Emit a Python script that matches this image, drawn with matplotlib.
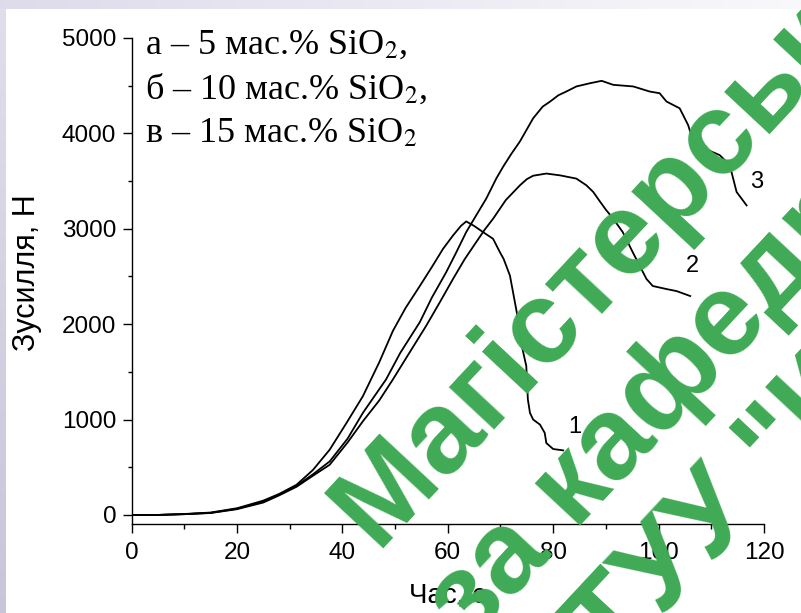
import numpy as np
import matplotlib
matplotlib.use("Agg")
import matplotlib.pyplot as plt
from matplotlib.ticker import MultipleLocator

plt.rcParams["font.family"] = ["Liberation Sans", "DejaVu Sans"]
plt.rcParams["mathtext.fontset"] = "stix"

# Load curves: time (s) vs force (N)
x1 = [0, 5, 10, 15, 20, 25, 28, 31.3, 34.4, 37.6, 40.8, 43.9, 47, 49.6, 52,
      54.7, 57, 59.1, 61, 62.5, 63.5, 65, 66.7, 68.6, 69.9, 70.6, 71.8, 73.1,
      73.7, 74.9, 75.2, 75.6, 76.2, 77.5, 78.4, 78.7, 80, 81.9]
y1 = [0, 0, 10, 25, 70, 150, 220, 316, 470, 684, 965, 1245, 1600, 1930, 2170,
      2400, 2600, 2789, 2930, 3030, 3077, 3030, 2965, 2895, 2754, 2684, 2509,
      2123, 1860, 1561, 1210, 1070, 1000, 947, 860, 754, 691, 677]

x2 = [0, 5, 10, 15, 20, 25, 28, 31.3, 34.4, 37.6, 41, 43.9, 47, 49.6, 52.5,
      55.9, 58.5, 61.0, 63.2, 65.4, 67, 68.6, 71, 73.7, 75, 76.2, 78.7, 81.3,
      84.4, 86.3, 87.6, 88.9, 90, 91.4, 93.2, 95.1, 96.4, 97.7, 98.9, 101.5,
      103.4, 106.0]
y2 = [0, 0, 8, 20, 60, 130, 205, 295, 410, 526, 760, 982, 1200, 1421, 1680,
      1982, 2230, 2474, 2680, 2860, 2990, 3105, 3300, 3456, 3520, 3556, 3579,
      3560, 3526, 3456, 3386, 3284, 3200, 3105, 2965, 2754, 2614, 2474, 2400,
      2368, 2347, 2295]

x3 = [0, 5, 10, 15, 20, 25, 28, 31.3, 34.4, 37.6, 41, 43.9, 48.3, 51, 54.7,
      57, 59.7, 61.5, 63.5, 65.5, 67.3, 69.2, 70.5, 72, 73.7, 76.2, 78, 79.4,
      81, 82.5, 84.4, 87.0, 89.2, 91.4, 95.2, 98.3, 100.2, 101.5, 104.0, 105.6,
      106.6, 107.9, 111.6, 113.5, 114.8, 116.7]
y3 = [0, 0, 8, 22, 65, 140, 210, 305, 425, 561, 800, 1070, 1421, 1700, 2021,
      2280, 2544, 2740, 2965, 3150, 3316, 3526, 3650, 3780, 3916, 4158, 4280,
      4333, 4400, 4439, 4492, 4526, 4551, 4509, 4492, 4439, 4421, 4334, 4263,
      4088, 3912, 3860, 3772, 3667, 3386, 3245]

curve_labels = ["1", "2", "3"]
label_pos = [(84.1, 926), (106.4, 2614), (118.6, 3492)]

legend_lines = ["а – 5 мас.% SiO$_2$,",
                "б – 10 мас.% SiO$_2$,",
                "в – 15 мас.% SiO$_2$"]

W, H = 801, 613
fig = plt.figure(figsize=(W / 100, H / 100), dpi=100)

# slide background: lavender frame on the left and top, white page
bg = np.ones((H, W, 3))
left_col = np.linspace(0.0, 1.0, H)[:, None]
lav_top = np.array([0.88, 0.87, 0.93])
lav_bot = np.array([0.79, 0.77, 0.85])
bg[:, :6, :] = (lav_top + (lav_bot - lav_top) * left_col)[:, None, :]
t = np.linspace(0.0, 1.0, W)[:, None]
top_l = np.array([0.87, 0.86, 0.92])
top_r = np.array([0.975, 0.975, 0.985])
bg[:9, :, :] = (top_l + (top_r - top_l) * t)[None, :, :]
bax = fig.add_axes([0, 0, 1, 1], zorder=-10)
bax.imshow(bg, aspect="auto", interpolation="bilinear")
bax.set_axis_off()

ax = fig.add_axes([131.5 / W, 1 - 524 / H, (764 - 131.5) / W, (524 - 38) / H])
ax.patch.set_alpha(0)

for xs, ys in ((x1, y1), (x2, y2), (x3, y3)):
    ax.plot(xs, ys, color="black", lw=1.3)

for lab, (lx, ly) in zip(curve_labels, label_pos):
    ax.text(lx, ly, lab, fontsize=17, ha="center", va="center")

ax.set_xlim(0, 120)
ax.set_ylim(-95, 5000)
ax.xaxis.set_major_locator(MultipleLocator(20))
ax.xaxis.set_minor_locator(MultipleLocator(10))
ax.yaxis.set_major_locator(MultipleLocator(1000))
ax.yaxis.set_minor_locator(MultipleLocator(500))
for s in ("top", "right"):
    ax.spines[s].set_visible(False)
for s in ("left", "bottom"):
    ax.spines[s].set_linewidth(1.0)
ax.tick_params(axis="x", which="major", length=6.7, width=1.0, labelsize=17.5, pad=6)
ax.tick_params(axis="x", which="minor", length=3.6, width=1.0)
ax.tick_params(axis="y", which="major", length=6.5, width=1.0, labelsize=17.5, pad=4.5)
ax.tick_params(axis="y", which="minor", length=3.0, width=1.0)

ax.set_xlabel("Час, с", fontsize=20)
ax.xaxis.set_label_coords(0.5, -0.12)
ax.set_ylabel("Зусилля, Н", fontsize=22)
ax.yaxis.set_label_coords(-0.141, 0.518)

for i, line in enumerate(legend_lines):
    fig.text(145 / W, 1 - (45 + 44.5 * i) / H, line, fontsize=26,
             family=["Liberation Serif", "DejaVu Serif"], ha="left", va="center")

# watermark
wm_lines = ["Магістерська", "за кафедрою", "НТУУ \"КПІ\""]
wm_anchor = [(376, 549), (470, 644), (555, 731)]
for txt, (px, py) in zip(wm_lines, wm_anchor):
    fig.text(px / W, 1 - py / H, txt, fontsize=84, fontweight="bold",
             color="#3FAA55", rotation=47, rotation_mode="anchor",
             ha="left", va="baseline", zorder=20)

fig.savefig("out.png", dpi=100)
